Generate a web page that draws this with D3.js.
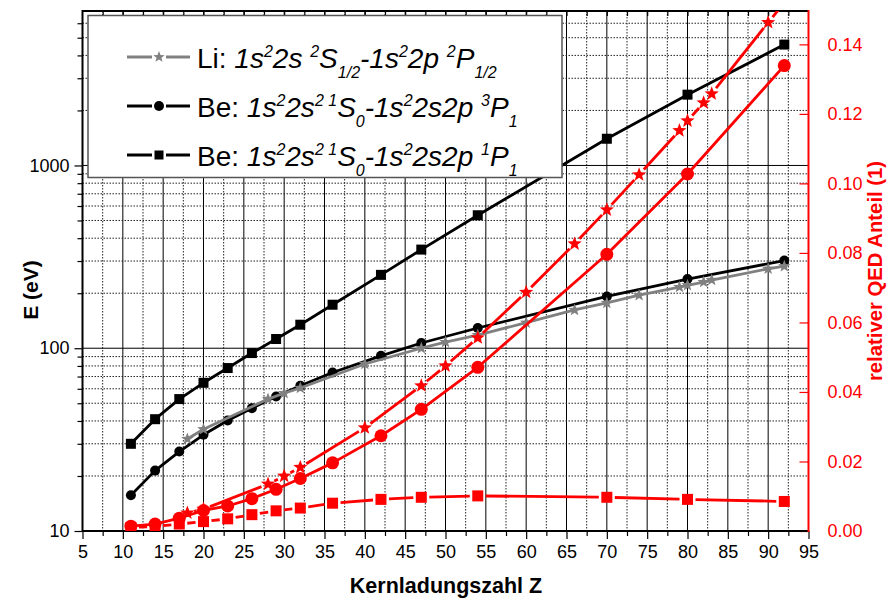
<!DOCTYPE html>
<html>
<head>
<meta charset="utf-8">
<script src="https://cdn.jsdelivr.net/npm/d3@7"></script>
<style>
  body { margin: 0; background: #fff; }
  svg { display: block; }
  text { font-family: Arial, "Liberation Sans", Helvetica, sans-serif; }
</style>
</head>
<body>
<svg id="chart" width="888" height="601"></svg>
<script>
// Nuclear charge Z of the computed ions
const zLi = [18, 20, 28, 30, 32, 40, 47, 50, 54, 60, 66, 70, 74, 79, 80, 82, 83, 90, 92];
const zBe = [11, 14, 17, 20, 23, 26, 29, 32, 36, 42, 47, 54, 70, 80, 92];

// Transition energies (eV), left log axis
const eLi    = [31.9, 36.0, 52.7, 56.8, 60.6, 82, 100, 108, 118, 138, 162, 177, 195, 216, 221, 230, 236, 272, 281];
const eBe3P1 = [15.7, 21.4, 27.2, 33.6, 40.2, 47.0, 54.4, 62.3, 73.7, 90.9, 106.8, 129, 192, 239, 301.6];
const eBe1P1 = [30, 40.9, 52.7, 64.7, 77.9, 94.1, 112.3, 134.5, 173, 252, 346.5, 534, 1400, 2440, 4585];

// Relative QED contribution, right axis
const qedLi    = [0.0052, 0.0063, 0.0135, 0.0158, 0.0183, 0.0297, 0.0418, 0.0475, 0.0556, 0.0687, 0.0826, 0.0924, 0.1025, 0.1152, 0.1180, 0.1232, 0.1258, 0.1463, 0.152];
const qedBe3P1 = [0.0014, 0.0020, 0.0037, 0.0059, 0.0072, 0.0093, 0.0120, 0.0151, 0.0196, 0.0274, 0.0350, 0.0471, 0.0796, 0.1027, 0.1339];
const qedBe1P1 = [0.0010, 0.0013, 0.0020, 0.0027, 0.0035, 0.0047, 0.0058, 0.0066, 0.0080, 0.0091, 0.0097, 0.0101, 0.0097, 0.0091, 0.0085];

// Axis ticks
const xTickValues = d3.range(5, 96, 5);
const yLeftTickValues = [10, 100, 1000];
const yRightTickValues = [0, 0.02, 0.04, 0.06, 0.08, 0.10, 0.12, 0.14];

const L = 82.5, R = 808.5, T = 11, B = 531;

const svg = d3.select("#chart");

const x = d3.scaleLinear().domain([5, 95]).range([L, R]);
const yL = d3.scaleLog().domain([10, 7000]).range([B, T]);
const yR = d3.scaleLinear().domain([0, 0.1496]).range([B, T]);

const RED = "#ff0000", GRAY = "#808080", BLACK = "#000";

svg.append("defs").append("clipPath").attr("id", "plotClip")
  .append("rect").attr("x", L).attr("y", T).attr("width", R - L).attr("height", B - T);

// ---- grid ----
const grid = svg.append("g");
const minorX = d3.range(7.5, 95, 5);
const majorX = d3.range(10, 95, 5);
grid.selectAll(".gxm").data(minorX).join("line")
  .attr("x1", d => x(d)).attr("x2", d => x(d)).attr("y1", T).attr("y2", B)
  .attr("stroke", "#222").attr("stroke-width", 1).attr("stroke-dasharray", "1.5,1.5");
grid.selectAll(".gxM").data(majorX).join("line")
  .attr("x1", d => x(d)).attr("x2", d => x(d)).attr("y1", T).attr("y2", B)
  .attr("stroke", "#000").attr("stroke-width", 1);

const minorY = [];
[10, 100, 1000].forEach(dec => { for (let k = 2; k <= 9; k++) if (dec * k < 7000) minorY.push(dec * k); });
grid.selectAll(".gym").data(minorY).join("line")
  .attr("x1", L).attr("x2", R).attr("y1", d => yL(d)).attr("y2", d => yL(d))
  .attr("stroke", "#222").attr("stroke-width", 1).attr("stroke-dasharray", "1.5,1.5");
grid.selectAll(".gyM").data([100, 1000]).join("line")
  .attr("x1", L).attr("x2", R).attr("y1", d => yL(d)).attr("y2", d => yL(d))
  .attr("stroke", "#000").attr("stroke-width", 1);

// ---- axes ----
const fmtR = d3.format(".2f");
// bottom
const xAxis = svg.append("g").attr("transform", `translate(0,${B})`)
  .call(d3.axisBottom(x).tickValues(xTickValues).tickSize(8).tickPadding(6).tickFormat(d3.format("d")));
xAxis.select(".domain").remove();
xAxis.selectAll("text").attr("font-size", 18).attr("fill", "#000");
svg.append("g").attr("transform", `translate(0,${B})`)
  .call(d3.axisBottom(x).tickValues(minorX).tickSize(5).tickFormat(""))
  .select(".domain").remove();
// top (inward ticks)
const topAx = svg.append("g").attr("transform", `translate(0,${T})`)
  .call(d3.axisBottom(x).tickValues(d3.range(7.5, 95, 2.5)).tickSize(5).tickFormat(""));
topAx.select(".domain").remove();
// left
const yAxis = svg.append("g").attr("transform", `translate(${L},0)`)
  .call(d3.axisLeft(yL).tickValues(yLeftTickValues).tickSize(8).tickPadding(5).tickFormat(d3.format("d")));
yAxis.select(".domain").remove();
yAxis.selectAll("text").attr("font-size", 18).attr("fill", "#000");
svg.append("g").attr("transform", `translate(${L},0)`)
  .call(d3.axisLeft(yL).tickValues(minorY).tickSize(5).tickFormat(""))
  .select(".domain").remove();
// right (red, inward ticks)
const yAxisR = svg.append("g").attr("transform", `translate(${R},0)`)
  .call(d3.axisRight(yR).tickValues(yRightTickValues).tickSize(-9).tickPadding(19).tickFormat(fmtR));
yAxisR.select(".domain").remove();
yAxisR.selectAll("line").attr("stroke", RED).attr("stroke-width", 1.2);
yAxisR.selectAll("text").attr("font-size", 18).attr("fill", RED);

svg.selectAll(".tick line").filter(function () { return !this.getAttribute("stroke") || this.getAttribute("stroke") === "currentColor"; })
  .attr("stroke", "#000").attr("stroke-width", 1.2);

// frame
svg.append("line").attr("x1", L).attr("x2", R).attr("y1", T).attr("y2", T).attr("stroke", "#000").attr("stroke-width", 2);
svg.append("line").attr("x1", L).attr("x2", R).attr("y1", B).attr("y2", B).attr("stroke", "#000").attr("stroke-width", 2);
svg.append("line").attr("x1", L).attr("x2", L).attr("y1", T - 1).attr("y2", B + 1).attr("stroke", "#000").attr("stroke-width", 2);
svg.append("line").attr("x1", R).attr("x2", R).attr("y1", T - 1).attr("y2", B + 1).attr("stroke", RED).attr("stroke-width", 2);

// ---- axis titles ----
svg.append("text").attr("transform", "translate(38,290) rotate(-90)")
  .attr("text-anchor", "middle").attr("font-size", 21).attr("font-weight", "bold").text("E (eV)");
svg.append("text").attr("x", 446).attr("y", 593)
  .attr("text-anchor", "middle").attr("font-size", 21.5).attr("font-weight", "bold").text("Kernladungszahl Z");
svg.append("text").attr("transform", "translate(882,271) rotate(-90)")
  .attr("text-anchor", "middle").attr("font-size", 20.3).attr("font-weight", "bold").attr("fill", RED)
  .text("relativer QED Anteil (1)");

// ---- marker shapes ----
function starPath(r) {
  const pts = [];
  for (let i = 0; i < 10; i++) {
    const rr = i % 2 === 0 ? r : r * 0.42;
    const a = -Math.PI / 2 + i * Math.PI / 5;
    pts.push([rr * Math.cos(a), rr * Math.sin(a)]);
  }
  return "M" + pts.map(p => p.join(",")).join("L") + "Z";
}
function drawMarker(g, shape, cx, cy, size, color) {
  if (shape === "square") {
    g.append("rect").attr("x", cx - size / 2).attr("y", cy - size / 2)
      .attr("width", size).attr("height", size).attr("fill", color);
  } else if (shape === "circle") {
    g.append("circle").attr("cx", cx).attr("cy", cy).attr("r", size / 2).attr("fill", color);
  } else {
    g.append("path").attr("d", starPath(size / 2)).attr("transform", `translate(${cx},${cy})`).attr("fill", color);
  }
}

// ---- series ----
const plot = svg.append("g").attr("clip-path", "url(#plotClip)");

function drawSeries(zs, vs, yScale, opt) {
  const pts = zs.map((z, i) => [x(z), yScale(vs[i])]);
  const g = plot.append("g");
  if (opt.gap > 0) {
    for (let i = 0; i < pts.length - 1; i++) {
      const [x0, y0] = pts[i], [x1, y1] = pts[i + 1];
      const len = Math.hypot(x1 - x0, y1 - y0);
      if (len <= 2 * opt.gap) continue;
      const ux = (x1 - x0) / len, uy = (y1 - y0) / len;
      g.append("line")
        .attr("x1", x0 + ux * opt.gap).attr("y1", y0 + uy * opt.gap)
        .attr("x2", x1 - ux * opt.gap).attr("y2", y1 - uy * opt.gap)
        .attr("stroke", opt.color).attr("stroke-width", opt.width);
    }
  } else {
    g.append("path").attr("d", d3.line()(pts)).attr("fill", "none")
      .attr("stroke", opt.color).attr("stroke-width", opt.width).attr("stroke-linejoin", "round");
  }
  pts.forEach(p => drawMarker(g, opt.shape, p[0], p[1], opt.size, opt.color));
}

drawSeries(zBe, eBe1P1, yL, { color: BLACK, width: 2.8, shape: "square", size: 10, gap: 0 });
drawSeries(zBe, eBe3P1, yL, { color: BLACK, width: 2.8, shape: "circle", size: 10, gap: 0 });
drawSeries(zLi, eLi, yL, { color: GRAY, width: 2.8, shape: "star", size: 13, gap: 0 });
drawSeries(zBe, qedBe1P1, yR, { color: RED, width: 2.8, shape: "square", size: 11, gap: 8 });
drawSeries(zBe, qedBe3P1, yR, { color: RED, width: 2.8, shape: "circle", size: 13, gap: 0 });
drawSeries(zLi, qedLi, yR, { color: RED, width: 2.8, shape: "star", size: 15, gap: 7 });

// ---- legend ----
const leg = svg.append("g");
leg.append("rect").attr("x", 88).attr("y", 15.5).attr("width", 474).attr("height", 162)
  .attr("fill", "#fff").attr("stroke", "#555").attr("stroke-width", 1.5);

const legendRows = [
  { color: GRAY, shape: "star", size: 12, y: 57,
    parts: [["Li: ", "n"], ["1s", "i"], ["2", "sup"], ["2s ", "i"], ["2", "sup"], ["S", "i"], ["1/2", "sub"],
            ["-1s", "i"], ["2", "sup"], ["2p ", "i"], ["2", "sup"], ["P", "i"], ["1/2", "sub"]] },
  { color: BLACK, shape: "circle", size: 10, y: 106,
    parts: [["Be: ", "n"], ["1s", "i"], ["2", "sup"], ["2s", "i"], ["2 1", "sup"], ["S", "i"], ["0", "sub"],
            ["-1s", "i"], ["2", "sup"], ["2s2p ", "i"], ["3", "sup"], ["P", "i"], ["1", "sub"]] },
  { color: BLACK, shape: "square", size: 9, y: 155,
    parts: [["Be: ", "n"], ["1s", "i"], ["2", "sup"], ["2s", "i"], ["2 1", "sup"], ["S", "i"], ["0", "sub"],
            ["-1s", "i"], ["2", "sup"], ["2s2p ", "i"], ["1", "sup"], ["P", "i"], ["1", "sub"]] }
];

const FS = 28, SFS = 16, SUP = 11, SUB = 10;
legendRows.forEach(row => {
  leg.append("line").attr("x1", 127).attr("x2", 152).attr("y1", row.y).attr("y2", row.y)
    .attr("stroke", row.color).attr("stroke-width", 3);
  leg.append("line").attr("x1", 166).attr("x2", 190).attr("y1", row.y).attr("y2", row.y)
    .attr("stroke", row.color).attr("stroke-width", 3);
  drawMarker(leg, row.shape, 159, row.y, row.size, row.color);

  const t = leg.append("text").attr("x", 197).attr("y", row.y + 11).attr("font-size", FS).attr("fill", "#000");
  let shift = 0; // current vertical offset from baseline
  row.parts.forEach(([s, kind]) => {
    let target = 0, fs = FS, style = "italic";
    if (kind === "n") style = "normal";
    if (kind === "sup") { target = -SUP; fs = SFS; }
    if (kind === "sub") { target = SUB; fs = SFS; }
    t.append("tspan").attr("dy", target - shift).attr("font-size", fs)
      .attr("font-style", style).attr("xml:space", "preserve").text(s);
    shift = target;
  });
});
</script>
</body>
</html>
